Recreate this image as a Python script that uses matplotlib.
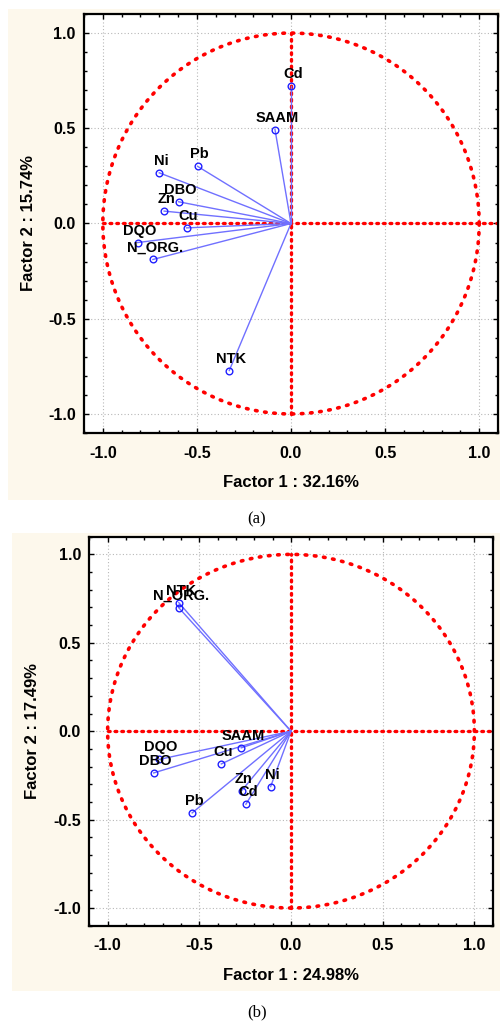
import numpy as np
import matplotlib
matplotlib.use('Agg')
import matplotlib.pyplot as plt
from matplotlib.patches import Rectangle
from matplotlib.ticker import MultipleLocator

# Factor loadings
vars_a = ['Cd', 'SAAM', 'Pb', 'Ni', 'DBO', 'Zn', 'Cu', 'DQO', 'N_ORG.', 'NTK']
f1_a = [0.00, -0.085, -0.496, -0.70, -0.597, -0.674, -0.555, -0.815, -0.734, -0.328]
f2_a = [0.72, 0.493, 0.30, 0.266, 0.114, 0.065, -0.023, -0.10, -0.189, -0.772]

vars_b = ['NTK', 'N_ORG.', 'SAAM', 'Cu', 'DQO', 'DBO', 'Zn', 'Cd', 'Ni', 'Pb']
f1_b = [-0.612, -0.612, -0.271, -0.380, -0.721, -0.749, -0.269, -0.246, -0.111, -0.539]
f2_b = [0.727, 0.698, -0.094, -0.185, -0.160, -0.236, -0.336, -0.413, -0.313, -0.462]

xlabels = ['Factor 1 : 32.16%', 'Factor 1 : 24.98%']
ylabels = ['Factor 2 : 15.74%', 'Factor 2 : 17.49%']
captions = ['(a)', '(b)']

plt.rcParams['font.family'] = ['Liberation Sans', 'DejaVu Sans']
plt.rcParams['font.weight'] = 'bold'

W, H = 500, 1021
fig = plt.figure(figsize=(W / 100, H / 100), dpi=100)
fig.patch.set_facecolor('white')

cream = '#fdf8ec'


def px_rect(x0, y0, x1, y1):
    # pixel box (top-left origin) -> figure fraction [left, bottom, width, height]
    return [x0 / W, 1 - y1 / H, (x1 - x0) / W, (y1 - y0) / H]


# cream panel backgrounds (behind the axes)
for box in [(8, 9, 500, 500), (12, 533, 500, 991)]:
    l, b, w, h = px_rect(*box)
    fig.patches.append(Rectangle((l, b), w, h, transform=fig.transFigure,
                                 facecolor=cream, edgecolor='none', zorder=-5))

axes_boxes = [(84, 14, 498, 433), (89.3, 536.7, 492.7, 925.7)]
ylab_x = [-0.135, -0.140]
xlab_y = [-0.119, -0.127]
caption_y = [519, 1012]
datasets = [(vars_a, f1_a, f2_a), (vars_b, f1_b, f2_b)]

theta = np.linspace(0, 2 * np.pi, 721)

for i, (names, f1, f2) in enumerate(datasets):
    ax = fig.add_axes(px_rect(*axes_boxes[i]))
    ax.set_facecolor('white')
    ax.set_xlim(-1.1, 1.1)
    ax.set_ylim(-1.1, 1.1)

    ax.xaxis.set_major_locator(MultipleLocator(0.5))
    ax.yaxis.set_major_locator(MultipleLocator(0.5))
    ax.xaxis.set_minor_locator(MultipleLocator(0.1))
    ax.yaxis.set_minor_locator(MultipleLocator(0.1))
    ax.xaxis.set_major_formatter(plt.FormatStrFormatter('%.1f'))
    ax.yaxis.set_major_formatter(plt.FormatStrFormatter('%.1f'))
    ax.tick_params(which='both', direction='in', top=True, right=True,
                   width=1, color='black')
    ax.tick_params(which='major', length=3.5, labelsize=11.5, pad=9)
    ax.tick_params(which='minor', length=2.5)
    ax.tick_params(axis='y', which='major', pad=6)
    for lab in ax.get_xticklabels() + ax.get_yticklabels():
        lab.set_fontweight('bold')
    for s in ax.spines.values():
        s.set_linewidth(1.6)
    ax.grid(True, which='major', color='#b8b8b8', linestyle=(0, (1, 2)), linewidth=0.8)
    ax.set_axisbelow(True)

    # unit circle and reference axes
    ax.plot(np.cos(theta), np.sin(theta), color='red', lw=2.6,
            linestyle=(0, (0.45, 2.1)), dash_capstyle='round', zorder=2)
    ax.plot([-1, 1.1], [0, 0], color='red', lw=2.4,
            linestyle=(0, (0.5, 1.5)), dash_capstyle='round', zorder=2)
    ax.plot([0, 0], [-1, 1], color='red', lw=2.4,
            linestyle=(0, (0.5, 1.5)), dash_capstyle='round', zorder=2)

    # loading vectors
    for n, x, y in zip(names, f1, f2):
        ax.plot([0, x], [0, y], color='#7070ff', lw=1.0, zorder=3)
    ax.plot(f1, f2, linestyle='none', marker='o', markersize=4.8,
            markerfacecolor='none', markeredgecolor='#2020ff',
            markeredgewidth=1.0, zorder=4)
    for n, x, y in zip(names, f1, f2):
        ax.annotate(n, (x, y), xytext=(2, 5), textcoords='offset pixels',
                    ha='center', va='bottom', fontsize=10.5, fontweight='bold',
                    zorder=5)

    ax.set_xlabel(xlabels[i], fontsize=12, fontweight='bold')
    ax.set_ylabel(ylabels[i], fontsize=12, fontweight='bold')
    ax.xaxis.label.set_va('center')
    ax.yaxis.label.set_va('center')
    ax.xaxis.set_label_coords(0.5, xlab_y[i])
    ax.yaxis.set_label_coords(ylab_x[i], 0.5)

    fig.text(257 / W, 1 - caption_y[i] / H, captions[i], ha='center', va='center',
             fontsize=12, fontweight='normal', family=['Liberation Serif', 'DejaVu Serif'])

fig.savefig('out.png', dpi=100)
